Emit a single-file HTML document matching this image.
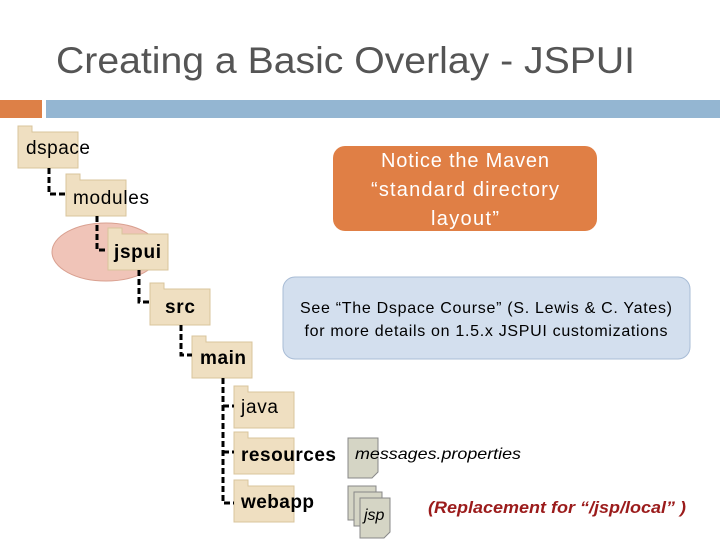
<!DOCTYPE html>
<html><head><meta charset="utf-8"><style>
body{margin:0;width:720px;height:540px;background:#fff;overflow:hidden;font-family:"Liberation Sans",sans-serif}
</style></head><body>
<svg width="720" height="540" xmlns="http://www.w3.org/2000/svg" font-family="Liberation Sans, sans-serif">
<text x="56" y="73" font-size="37" fill="#555" textLength="579" lengthAdjust="spacingAndGlyphs">Creating a Basic Overlay - JSPUI</text>
<rect x="0" y="100" width="42" height="18" fill="#dd8047"/>
<rect x="46" y="100" width="674" height="18" fill="#94b6d2"/>
<ellipse cx="106" cy="252" rx="54" ry="29" fill="#f0c4b8" stroke="#d9a090"/>
<g fill="#efdfc1" stroke="#d9c49c">
<path d="M18 168V126h14v6h46v36z"/>
<path d="M66 216V174h14v6h46v36z"/>
<path d="M108 270V228h14v6h46v36z"/>
<path d="M150 325V283h14v6h46v36z"/>
<path d="M192 378V336h14v6h46v36z"/>
<path d="M234 428V386h14v6h46v36z"/>
<path d="M234 474V432h14v6h46v36z"/>
<path d="M234 522V480h14v6h46v36z"/>
</g>
<g stroke="#000" stroke-width="3" stroke-dasharray="6,3" fill="none">
<path d="M49 168V194H66"/>
<path d="M97 216V250H108"/>
<path d="M139 270V302H150"/>
<path d="M181 325V355H192"/>
<path d="M223 378V503H234M223 406H234M223 452H234"/>
</g>
<g font-size="19" fill="#000" lengthAdjust="spacingAndGlyphs">
<text x="26" y="154" textLength="64">dspace</text>
<text x="73" y="204" textLength="76">modules</text>
<text x="114" y="258" font-weight="bold" textLength="47">jspui</text>
<text x="165" y="313" font-weight="bold" textLength="30">src</text>
<text x="200" y="364" font-weight="bold" textLength="46">main</text>
<text x="241" y="413" textLength="37">java</text>
<text x="241" y="461" font-weight="bold" textLength="95">resources</text>
<text x="241" y="508" font-weight="bold" textLength="73">webapp</text>
</g>
<g fill="#d5d5c5" stroke="#888">
<path d="M348 438h30v34l-6 6h-24z"/>
<path d="M348 486h28v34h-28z"/>
<path d="M354 492h28v34h-28z"/>
<path d="M360 498h30v34l-6 6h-24z"/>
</g>
<text x="355" y="459" font-size="16" font-style="italic" textLength="166" lengthAdjust="spacingAndGlyphs">messages.properties</text>
<text x="364" y="520" font-size="16" font-style="italic">jsp</text>
<text x="428" y="513" font-size="17" font-weight="bold" font-style="italic" fill="#9b1b1b" textLength="258" lengthAdjust="spacingAndGlyphs">(Replacement for “/jsp/local” )</text>
<rect x="333" y="146" width="264" height="85" rx="12" fill="#e07f45"/>
<g font-size="20" fill="#fff" text-anchor="middle" lengthAdjust="spacingAndGlyphs">
<text x="465" y="167" textLength="168">Notice the Maven</text>
<text x="465" y="196" textLength="188">“standard directory</text>
<text x="465" y="225" textLength="68">layout”</text>
</g>
<rect x="283" y="277" width="407" height="82" rx="12" fill="#d3dfee" stroke="#a8bcd6"/>
<g font-size="16" fill="#000" text-anchor="middle" lengthAdjust="spacingAndGlyphs">
<text x="486" y="313" textLength="372">See “The Dspace Course” (S. Lewis &amp; C. Yates)</text>
<text x="486" y="336" textLength="363">for more details on 1.5.x JSPUI customizations</text>
</g>
</svg>
</body></html>
